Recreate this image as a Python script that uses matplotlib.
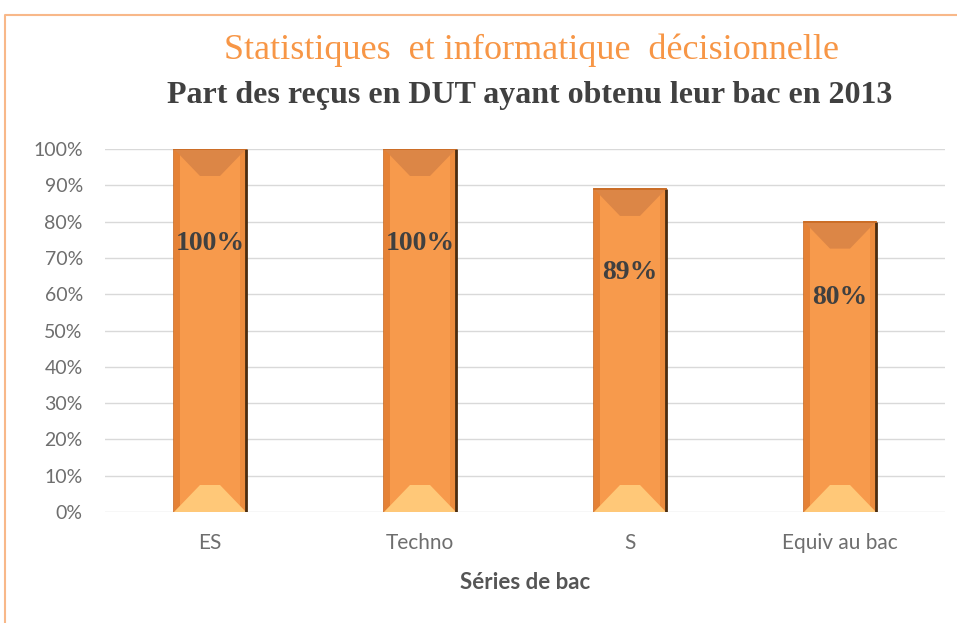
import matplotlib
matplotlib.use("Agg")
import matplotlib.pyplot as plt
from matplotlib.patches import Polygon
from matplotlib.lines import Line2D
from matplotlib.ticker import PercentFormatter

# données
series = ["ES", "Techno", "S", "Equiv au bac"]
taux = [1.00, 1.00, 0.89, 0.80]
labels = ["100%", "100%", "89%", "80%"]

ORANGE = "#F79A4C"
GRIS = "#6E6E6E"

fig = plt.figure(figsize=(9.57, 6.23), dpi=100)
ax = fig.add_axes([105 / 957, 111 / 623, 840 / 957, 363 / 623])

bars = ax.bar(range(len(series)), taux, width=0.343, color=ORANGE,
              edgecolor="#C96A22", linewidth=1.2, zorder=3)

# effet biseau (à la Excel) : bandes haut/bas et côtés
px_x = 0.343 / 72      # 1 px en unités x
px_y = 1.0 / 363       # 1 px en unités y
for b, lab in zip(bars, labels):
    x0 = b.get_x(); x1 = x0 + b.get_width(); h = b.get_height()
    s = 6 * px_x
    ax.add_patch(Polygon([(x0, 0), (x0 + s, 0), (x0 + s, h), (x0, h)],
                         closed=True, color="#E58236", lw=0, zorder=4))
    ax.add_patch(Polygon([(x1 - s, 0), (x1, 0), (x1, h), (x1 - s, h)],
                         closed=True, color="#EC8C3E", lw=0, zorder=4))
    d = 27 * px_y
    ax.add_patch(Polygon([(x0, h), (x1, h), (x1 - 26 * px_x, h - d), (x0 + 26 * px_x, h - d)],
                         closed=True, color="#DC8646", lw=0, zorder=5))
    ax.add_patch(Polygon([(x0, 0), (x1, 0), (x1 - 26 * px_x, d), (x0 + 26 * px_x, d)],
                         closed=True, color="#FFC878", lw=0, zorder=5))
    ax.plot([x1, x1], [0, h], color="#4A2C10", lw=2, zorder=6, solid_capstyle="butt")
    ax.plot([x0, x1], [h, h], color="#C96A22", lw=1.2, zorder=6)
    ax.text(x0 + b.get_width() / 2, h * 0.74, lab,
            ha="center", va="center", fontsize=20, fontweight="bold",
            family="Liberation Serif", color="#404040", zorder=7)

ax.set_xlim(-0.5, len(series) - 0.5)
ax.set_ylim(0, 1)
ax.set_yticks([i / 10 for i in range(11)])
ax.yaxis.set_major_formatter(PercentFormatter(1.0, decimals=0))
ax.set_xticks(range(len(series)))
ax.set_xticklabels(series)
ax.grid(axis="y", color="#D9D9D9", lw=1, zorder=0)
ax.set_axisbelow(True)
for sp in ax.spines.values():
    sp.set_visible(False)
ax.tick_params(length=0, colors=GRIS)
ax.tick_params(axis="x", labelsize=15, pad=15)
ax.tick_params(axis="y", labelsize=14, pad=16)
for t in ax.get_xticklabels() + ax.get_yticklabels():
    t.set_family("Lato")
ax.set_xlabel("Séries de bac", fontsize=16, fontweight="bold", color="#555555",
              family="Lato", labelpad=14)

fig.text(532 / 957, 1 - 50 / 623, "Statistiques  et informatique  décisionnelle",
         ha="center", va="center", fontsize=26, color="#F79646", family="Liberation Serif")
fig.text(530 / 957, 1 - 96 / 623, "Part des reçus en DUT ayant obtenu leur bac en 2013",
         ha="center", va="center", fontsize=23, fontweight="bold", color="#404040",
         family="Liberation Serif")

# cadre orange (haut et gauche)
fig.add_artist(Line2D([5 / 957, 5 / 957, 1], [0, 1 - 15 / 623, 1 - 15 / 623],
                      color="#F8B889", lw=1.5, transform=fig.transFigure))

fig.savefig("out.png", dpi=100)
